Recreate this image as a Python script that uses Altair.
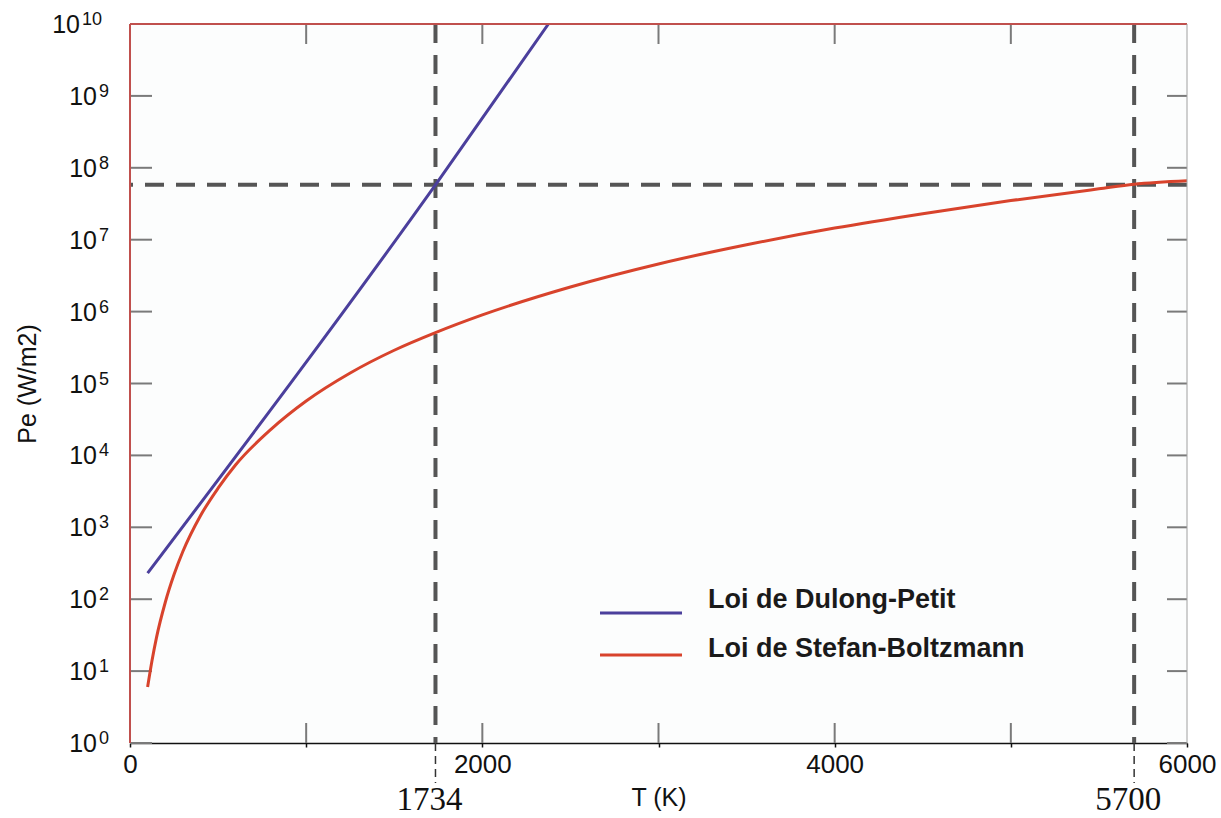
import altair as alt
import pandas as pd

# ---- data ----
series_names = ["Loi de Dulong-Petit", "Loi de Stefan-Boltzmann"]
series_colors = ["#4b3f9c", "#d8432c"]

T_dulong = [100, 1734, 2375]
P_dulong = [230, 5.8e7, 1.0e10]

T_stefan = [100, 125, 150, 200, 250, 300, 400, 500, 600, 800, 1000, 1250, 1500,
            1734, 2000, 2500, 3000, 3500, 4000, 4500, 5000, 5500, 5700, 6000]
P_stefan = [6, 14, 29, 90, 220, 460, 1450, 3500, 7400, 23000, 57000, 1.4e5, 2.9e5,
            5.1e5, 9.0e5, 2.2e6, 4.6e6, 8.5e6, 1.45e7, 2.3e7, 3.5e7, 5.1e7, 5.9e7, 6.6e7]

y_ticks = [1e0, 1e1, 1e2, 1e3, 1e4, 1e5, 1e6, 1e7, 1e8, 1e9, 1e10]
y_tick_base = ["10"] * 11
y_tick_exp = ["0", "1", "2", "3", "4", "5", "6", "7", "8", "9", "10"]
x_ticks = [0, 1000, 2000, 3000, 4000, 5000, 6000]
x_inner_ticks = [1000, 2000, 3000, 4000, 5000]

T_marks = [1734, 5700]
T_mark_labels = ["1734", "5700"]
P_mark = [5.8e7]

W, H = 1057, 719

curves = pd.DataFrame(
    {"T": T_dulong + T_stefan,
     "P": P_dulong + P_stefan,
     "series": [series_names[0]] * len(T_dulong) + [series_names[1]] * len(T_stefan)}
)

x_scale = alt.Scale(domain=[0, 6000], nice=False, zero=False)
y_scale = alt.Scale(type="log", domain=[1, 1e10], nice=False)

X = alt.X("T:Q", scale=x_scale,
          axis=alt.Axis(values=x_ticks, format="d",
                        labelExpr="datum.value % 2000 === 0 ? datum.label : ''",
                        labelFontSize=26, labelFont="Liberation Sans", labelColor="#111",
                        labelPadding=4, labelOverlap=False, labelFlush=False,
                        tickSize=4, tickColor="#111", tickWidth=1.5,
                        domainColor="#111", domainWidth=1.5, grid=False,
                        title="T (K)", titleFontSize=25, titleFont="Liberation Sans",
                        titleFontWeight="normal", titleColor="#111", titlePadding=8))
Y = alt.Y("P:Q", scale=y_scale,
          axis=alt.Axis(values=y_ticks, labels=False, ticks=False, domain=False, grid=False,
                        title="Pe (W/m2)", titleFontSize=25, titleFont="Liberation Sans",
                        titleFontWeight="normal", titleColor="#111", titlePadding=90))

base = alt.Chart(curves)

# y tick labels: "10" with raised exponent
ylab_df = pd.DataFrame({"P": y_ticks, "base": y_tick_base, "exp": y_tick_exp})
ylab = alt.Chart(ylab_df)
ybase_1 = ylab.transform_filter("datum.P < 1e10").mark_text(
    font="Liberation Sans", fontSize=25, color="#111", align="right", baseline="alphabetic", dy=9
).encode(y=Y, x=alt.value(-33), text="base:N")
yexp_1 = ylab.transform_filter("datum.P < 1e10").mark_text(
    font="Liberation Sans", fontSize=18, color="#111", align="left", baseline="alphabetic", dy=1
).encode(y=Y, x=alt.value(-31), text="exp:N")
ybase_2 = ylab.transform_filter("datum.P >= 1e10").mark_text(
    font="Liberation Sans", fontSize=25, color="#111", align="right", baseline="alphabetic", dy=9
).encode(y=Y, x=alt.value(-50), text="base:N")
yexp_2 = ylab.transform_filter("datum.P >= 1e10").mark_text(
    font="Liberation Sans", fontSize=18, color="#111", align="left", baseline="alphabetic", dy=1
).encode(y=Y, x=alt.value(-48), text="exp:N")

# inner tick marks
ytick_df = pd.DataFrame({"P": y_ticks})
xtick_df = pd.DataFrame({"T": x_inner_ticks})
left_ticks = alt.Chart(ytick_df).mark_rule(color="#7a7a7a", strokeWidth=2).encode(
    y=Y, x=alt.value(0), x2=alt.value(22))
right_ticks = alt.Chart(ytick_df).mark_rule(color="#7a7a7a", strokeWidth=2).encode(
    y=Y, x=alt.value(W - 20), x2=alt.value(W))
top_ticks = alt.Chart(xtick_df).mark_rule(color="#7a7a7a", strokeWidth=2).encode(
    x=X, y=alt.value(0), y2=alt.value(20))
bottom_ticks = alt.Chart(xtick_df).mark_rule(color="#7a7a7a", strokeWidth=2).encode(
    x=X, y=alt.value(H - 20), y2=alt.value(H))

# dashed reference lines
mark_df = pd.DataFrame({"T": T_marks, "label": T_mark_labels})
vdash = alt.Chart(mark_df).mark_rule(color="#555", strokeWidth=4, strokeDash=[19, 12]).encode(x=X)
vdash_below = alt.Chart(mark_df).mark_rule(color="#333", strokeWidth=1.5, strokeDash=[8, 5], clip=False).encode(
    x=X, y=alt.value(H), y2=alt.value(H + 40))
hdash = alt.Chart(pd.DataFrame({"P": P_mark})).mark_rule(color="#555", strokeWidth=4, strokeDash=[19, 12]).encode(y=Y)
mark_text = alt.Chart(mark_df).mark_text(font="Liberation Serif", fontSize=33, color="#111",
                                         align="center", baseline="bottom", dx=-6).encode(
    x=X, y=alt.value(H + 74), text="label:N")

# curves
lines = base.mark_line(strokeWidth=3, interpolate="monotone", clip=True).encode(
    x=X, y=Y,
    color=alt.Color("series:N", scale=alt.Scale(domain=series_names, range=series_colors), legend=None),
    detail="series:N")

# frame
frame_df = pd.DataFrame({"k": [0]})
top_border = alt.Chart(frame_df).mark_rule(color="#c0504d", strokeWidth=2).encode(y=alt.value(0))
left_border = alt.Chart(frame_df).mark_rule(color="#c0504d", strokeWidth=2).encode(x=alt.value(0))
right_border = alt.Chart(frame_df).mark_rule(color="#a0a0a0", strokeWidth=1).encode(x=alt.value(W))

# legend drawn inside the plot
leg_font = "Liberation Sans"
leg_layers = []
for i, (name, col) in enumerate(zip(series_names, series_colors)):
    ldf = pd.DataFrame({"label": [name]})
    yline = 589 + 42 * i
    leg_layers.append(alt.Chart(ldf).mark_rule(color=col, strokeWidth=3).encode(
        x=alt.value(470), x2=alt.value(552), y=alt.value(yline)))
    leg_layers.append(alt.Chart(ldf).mark_text(font=leg_font, fontSize=27, fontWeight="bold",
                                               color="#1a1a1a", align="left", baseline="alphabetic").encode(
        x=alt.value(578), y=alt.value(584 + 49 * i), text="label:N"))

chart = alt.layer(
    left_ticks, right_ticks, top_ticks, bottom_ticks,
    hdash, vdash, vdash_below, mark_text,
    lines,
    top_border, left_border, right_border,
    ybase_1, yexp_1, ybase_2, yexp_2,
    *leg_layers,
).properties(
    width=W, height=H,
    autosize=alt.AutoSizeParams(type="none"),
    padding={"left": 130, "top": 24, "right": 34, "bottom": 75},
    background="white",
).configure_view(fill="#fcfdfd", strokeWidth=0)

chart.save("out.html", embed_options={"renderer": "svg", "actions": False})
